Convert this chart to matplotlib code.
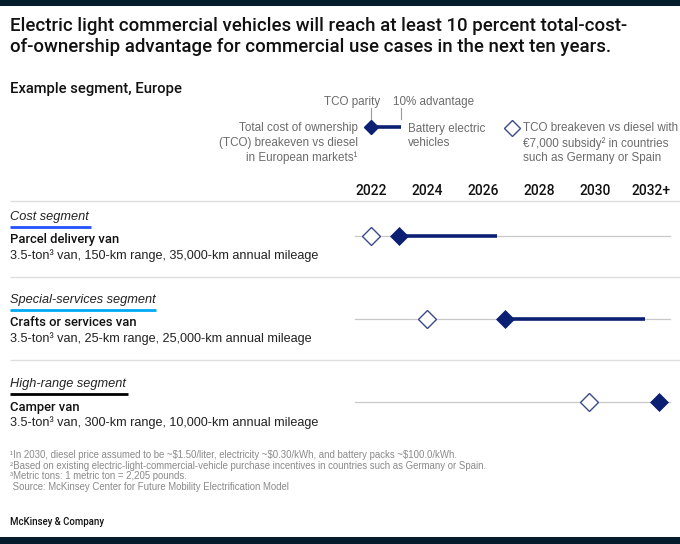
import matplotlib
matplotlib.use("Agg")
import matplotlib.pyplot as plt
from matplotlib.lines import Line2D
from matplotlib.patches import Rectangle
import matplotlib.transforms as mtransforms

plt.rcParams['font.family'] = ['Liberation Sans', 'DejaVu Sans']
BOLDFAM = ['Roboto', 'Liberation Sans', 'DejaVu Sans']

# ---------------- data ----------------
title = ("Electric light commercial vehicles will reach at least 10 percent total-cost-\n"
         "of-ownership advantage for commercial use cases in the next ten years.")
subtitle = "Example segment, Europe"
segments = ["Cost segment", "Special-services segment", "High-range segment"]
vehicles = ["Parcel delivery van", "Crafts or services van", "Camper van"]
details = ["3.5-ton\u00b3 van, 150-km range, 35,000-km annual mileage",
           "3.5-ton\u00b3 van, 25-km range, 25,000-km annual mileage",
           "3.5-ton\u00b3 van, 300-km range, 10,000-km annual mileage"]
subsidy_breakeven = [2022.0, 2024.0, 2029.8]   # hollow diamonds
tco_parity = [2023.0, 2026.8, 2032.3]          # filled diamonds
advantage_10pct = [2026.5, 2031.8, 2032.3]     # end of bar
year_ticks = [2022, 2024, 2026, 2028, 2030, 2032]
year_labels = ["2022", "2024", "2026", "2028", "2030", "2032+"]
footnotes = [
    "\u00b9In 2030, diesel price assumed to be ~$1.50/liter, electricity ~$0.30/kWh, and battery packs ~$100.0/kWh.",
    "\u00b2Based on existing electric-light-commercial-vehicle purchase incentives in countries such as Germany or Spain.",
    "\u00b3Metric tons: 1 metric ton = 2,205 pounds.",
    " Source: McKinsey Center for Future Mobility Electrification Model",
]

# ---------------- styling ----------------
W, H = 680, 544
NAVY = "#0b1f73"
DARK = "#051c2c"
GRAY_TXT = "#6b6b6b"
seg_colors = ["#2251ff", "#00a9f4", "#000000"]

fig = plt.figure(figsize=(W / 100, H / 100), dpi=100)
fig.patch.set_facecolor("white")

def fx(x):
    return x / W

def fy(y):
    return 1 - y / H

def ftext(x, y, s, **kw):
    kw.setdefault("va", "center")
    kw.setdefault("parse_math", False)
    return fig.text(fx(x), fy(y), s, **kw)

def hline(x0, x1, y, color, lw):
    fig.add_artist(Line2D([fx(x0), fx(x1)], [fy(y), fy(y)], color=color, lw=lw,
                          transform=fig.transFigure, solid_capstyle="butt"))

# top / bottom bars
fig.add_artist(Rectangle((0, fy(6)), 1, 6 / H, transform=fig.transFigure,
                         color=DARK, lw=0))
fig.add_artist(Rectangle((0, 0), 1, 7 / H, transform=fig.transFigure,
                         color=DARK, lw=0))

# title
ftext(10, 36.5, title, fontsize=13.45, fontweight="medium", family=BOLDFAM,
      color="#111111", va="center", linespacing=1.25)
ftext(10, 89, subtitle, fontsize=10.6, fontweight="medium", family=BOLDFAM,
      color="#111111")

# ---------------- data axes ----------------
x_left_px, x_right_px = 340, 680
px_per_year = 28.0
x2022_px = 371
xlim = (2022 + (x_left_px - x2022_px) / px_per_year,
        2022 + (x_right_px - x2022_px) / px_per_year)
row0_px, row_step = 236, 83
ax_top = row0_px - row_step / 2
ax_bot = ax_top + 3 * row_step
ax = fig.add_axes([fx(x_left_px), fy(ax_bot), fx(x_right_px - x_left_px),
                   (ax_bot - ax_top) / H])
ax.set_xlim(*xlim)
ax.set_ylim(2.5, -0.5)
ax.axis("off")

rows = list(range(len(vehicles)))
line_x0 = 2022 + (355 - x2022_px) / px_per_year
line_x1 = 2022 + (670 - x2022_px) / px_per_year
for i in rows:
    ax.plot([line_x0, line_x1], [i, i], color="#c8c8c8", lw=0.9, zorder=1)
    ax.plot([tco_parity[i], advantage_10pct[i]], [i, i], color=NAVY, lw=2.6,
            solid_capstyle="butt", zorder=2)
ax.plot(subsidy_breakeven, rows, ls="none", marker="D", ms=9.6, mfc="white",
        mec="#3b4a8c", mew=1.0, zorder=3)
ax.plot(tco_parity, rows, ls="none", marker="D", ms=9.0, mfc=NAVY, mec=NAVY,
        mew=0.5, zorder=4)

# year labels
trans = mtransforms.blended_transform_factory(ax.transData, fig.transFigure)
for yv, lab in zip(year_ticks, year_labels):
    ax.text(yv, fy(191), lab, transform=trans, ha="center", va="center",
            fontsize=10, fontweight="medium", family=BOLDFAM, color="#111111")

# separators
for ysep in [201, 277, 360]:
    hline(10, 680, ysep, "#dedede", 1.0)

# left labels
seg_y = [217, 300, 384]
ul_end = [91, 156, 128]
for i in rows:
    ftext(10, seg_y[i], segments[i], fontsize=9.2, style="italic", color="#222222")
    hline(10, ul_end[i], seg_y[i] + 9.5, seg_colors[i], 2.0)
    ftext(10, seg_y[i] + 23, vehicles[i], fontsize=9.35, fontweight="medium",
          family=BOLDFAM, color="#111111")
    ftext(10, seg_y[i] + 39, details[i], fontsize=9.05, color="#222222")

# ---------------- legend ----------------
lg_y = 127
fig.add_artist(Line2D([fx(371), fx(401)], [fy(lg_y), fy(lg_y)], color=NAVY,
                      lw=2.6, transform=fig.transFigure, solid_capstyle="butt"))
fig.add_artist(Line2D([fx(371)], [fy(lg_y)], ls="none", marker="D", ms=7.5,
                      mfc=NAVY, mec=NAVY, transform=fig.transFigure))
for xt in [371, 401]:
    fig.add_artist(Line2D([fx(xt), fx(xt)], [fy(108), fy(119)], color="#9a9a9a",
                          lw=0.8, transform=fig.transFigure))
ftext(352, 102, "TCO parity", fontsize=8.4, color=GRAY_TXT, ha="center")
ftext(393, 102, "10% advantage", fontsize=8.4, color=GRAY_TXT, ha="left")
ftext(358, 143, "Total cost of ownership\n(TCO) breakeven vs diesel\nin European markets\u00b9",
      fontsize=8.4, color=GRAY_TXT, ha="right", linespacing=1.3, multialignment="right")
ftext(408, 136, "Battery electric\nvehicles", fontsize=8.4, color=GRAY_TXT,
      ha="left", linespacing=1.3)
fig.add_artist(Line2D([fx(512)], [fy(128)], ls="none", marker="D", ms=8.0,
                      mfc="white", mec="#3b4a8c", mew=1.0, transform=fig.transFigure))
ftext(523, 143, "TCO breakeven vs diesel with\n\u20ac7,000 subsidy\u00b2 in countries\nsuch as Germany or Spain",
      fontsize=8.4, color=GRAY_TXT, ha="left", linespacing=1.3)

# footnotes
for k, fn in enumerate(footnotes):
    ftext(10, 455 + k * 10.7, fn, fontsize=6.9, color="#8a8a8a")
ftext(10, 522, "McKinsey & Company", fontsize=6.9, fontweight="medium",
      family=BOLDFAM, color="#111111")

fig.savefig("out.png", dpi=100)
